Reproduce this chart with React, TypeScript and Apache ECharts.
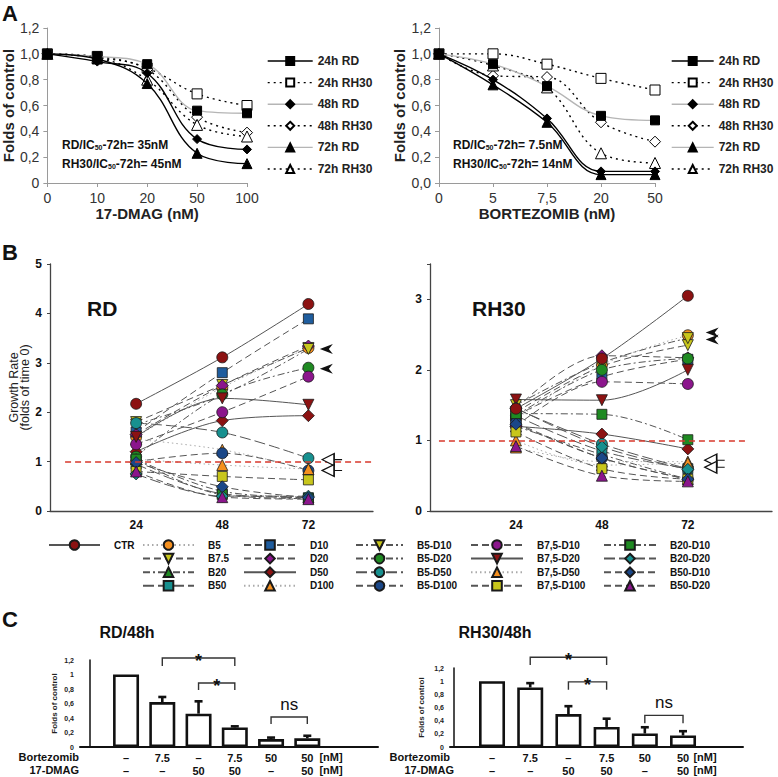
import React, { useEffect, useRef } from 'react';
import * as echarts from 'echarts';

const FONT = '"Liberation Sans", Arial, Helvetica, sans-serif';

// ---------------- Panel A: dose response ----------------
const dmagDoses = ['0', '10', '20', '50', '100'];
const bortDoses = ['0', '5', '7,5', '20', '50'];
const aSeriesNames = ['24h RD', '24h RH30', '48h RD', '48h RH30', '72h RD', '72h RH30'];
const dmag24hRD = [1.0, 0.98, 0.92, 0.56, 0.54];
const dmag24hRH30 = [1.0, 0.98, 0.89, 0.69, 0.6];
const dmag48hRD = [1.0, 0.94, 0.85, 0.34, 0.26];
const dmag48hRH30 = [1.0, 0.97, 0.88, 0.51, 0.39];
const dmag72hRD = [1.0, 0.96, 0.77, 0.23, 0.15];
const dmag72hRH30 = [1.0, 0.97, 0.8, 0.45, 0.36];
const bort24hRD = [1.0, 0.92, 0.75, 0.52, 0.485];
const bort24hRH30 = [1.0, 1.0, 0.92, 0.81, 0.72];
const bort48hRD = [1.0, 0.8, 0.5, 0.09, 0.09];
const bort48hRH30 = [1.0, 0.83, 0.82, 0.47, 0.32];
const bort72hRD = [1.0, 0.76, 0.47, 0.065, 0.065];
const bort72hRH30 = [1.0, 0.91, 0.74, 0.23, 0.155];

// ---------------- Panel B: growth rate ----------------
const hours = [24, 48, 72];
const bSeriesNames = [
  'CTR', 'B5', 'B7.5', 'B20', 'B50', 'D10', 'D20', 'D50', 'D100',
  'B5-D10', 'B5-D20', 'B5-D50', 'B5-D100',
  'B7,5-D10', 'B7,5-D20', 'B7,5-D50', 'B7,5-D100',
  'B20-D10', 'B20-D20', 'B50-D10', 'B50-D20',
];
// values at 24h, 48h, 72h (same order as bSeriesNames)
const rdGrowth = [
  [2.17, 3.11, 4.19],
  [1.5, 2.5, 3.3],
  [1.8, 2.55, 3.3],
  [1.05, 0.4, 0.28],
  [0.95, 0.35, 0.27],
  [1.6, 2.8, 3.89],
  [1.55, 2.54, 3.34],
  [1.2, 1.83, 1.93],
  [1.45, 1.24, 0.84],
  [1.75, 2.35, 3.28],
  [1.1, 2.36, 2.9],
  [1.78, 1.59, 1.07],
  [1.0, 1.17, 0.82],
  [1.35, 2.0, 2.72],
  [1.5, 2.28, 2.15],
  [1.05, 0.93, 0.85],
  [0.8, 0.7, 0.63],
  [1.05, 0.33, 0.25],
  [0.75, 0.3, 0.3],
  [0.98, 0.49, 0.27],
  [0.8, 0.28, 0.24],
];
const rh30Growth = [
  [1.45, 2.16, 3.05],
  [1.3, 2.07, 2.49],
  [1.4, 2.05, 2.35],
  [1.2, 0.8, 0.45],
  [1.35, 0.85, 0.6],
  [1.35, 1.9, 2.15],
  [1.45, 2.2, 2.17],
  [1.2, 1.09, 0.88],
  [0.9, 0.7, 0.7],
  [1.5, 2.1, 2.45],
  [1.35, 2.0, 2.16],
  [1.45, 0.95, 0.6],
  [1.25, 0.75, 0.45],
  [1.2, 1.83, 1.8],
  [1.58, 1.57, 2.0],
  [1.0, 0.65, 0.68],
  [1.12, 0.6, 0.45],
  [1.38, 1.37, 1.01],
  [1.46, 0.91, 0.59],
  [1.23, 0.75, 0.45],
  [0.92, 0.5, 0.42],
];
const bXTicks = [24, 48, 72];
// arrows: [hour position, growth]
const rdFilledArrows = [[77, 3.28], [77, 2.88]];
const rdHollowArrows = [[78.6, 1.04], [78.6, 0.82]];
const rh30FilledArrows = [[78.8, 2.53], [78.8, 2.43]];
const rh30HollowArrows = [[79.5, 0.72], [79.5, 0.62]];

// ---------------- Panel C: bars ----------------
const cBortLabels = ['–', '7.5', '–', '7.5', '50', '50'];
const cDmagLabels = ['–', '–', '50', '50', '–', '50'];
const rdFolds = [1.0, 0.62, 0.46, 0.27, 0.11, 0.12];
const rdErrTop = [1.0, 0.69, 0.63, 0.285, 0.13, 0.155];
const rh30Folds = [1.0, 0.905, 0.5, 0.305, 0.205, 0.175];
const rh30ErrTop = [1.0, 0.97, 0.62, 0.43, 0.3, 0.24];
// brackets: [from bar, to bar, top, foot]
const rdBrackets = [[2, 4, 1.228, 1.117], [3, 4, 0.883, 0.786], [5, 6, 0.414, 0.317]];
const rh30Brackets = [[2, 4, 1.364, 1.244], [3, 4, 0.99, 0.87], [5, 6, 0.48, 0.36]];
const bracketMarks = ['*', '*', 'ns'];

const aStyles: Record<string, any> = {
  '24h RD': { symbol: 'rect', fill: '#000', line: '#b5b5b5', type: 'solid', size: 9, legendLine: '#000' },
  '24h RH30': { symbol: 'rect', fill: '#fff', line: '#000', type: [2, 4], size: 10, legendLine: '#000' },
  '48h RD': { symbol: 'diamond', fill: '#000', line: '#000', type: 'solid', size: 9, legendLine: '#b5b5b5' },
  '48h RH30': { symbol: 'diamond', fill: '#fff', line: '#000', type: [2, 4], size: 11, legendLine: '#000' },
  '72h RD': { symbol: 'triangle', fill: '#000', line: '#000', type: 'solid', size: 10, legendLine: '#b5b5b5' },
  '72h RH30': { symbol: 'triangle', fill: '#fff', line: '#000', type: [2, 4], size: 11, legendLine: '#000' },
};

const C_DRED = '#8c1212';
const C_ORANGE = '#f5901f';
const C_YELLOW = '#c8c61c';
const C_GREEN = '#1f8a22';
const C_TEAL = '#17908f';
const C_BLUE = '#1f5d9e';
const C_PURPLE = '#8b168c';
const C_NAVY = '#1a4788';

const bStyles = [
  { symbol: 'circle', color: C_DRED, line: 'solid' },
  { symbol: 'circle', color: C_ORANGE, line: 'dotted' },
  { symbol: 'triangle', rot: 180, color: C_YELLOW, line: 'dash' },
  { symbol: 'triangle', color: C_GREEN, line: 'dashdot' },
  { symbol: 'rect', color: C_TEAL, line: 'long' },
  { symbol: 'rect', color: C_BLUE, line: 'dash' },
  { symbol: 'diamond', color: C_PURPLE, line: 'dash' },
  { symbol: 'diamond', color: C_DRED, line: 'solid' },
  { symbol: 'triangle', color: C_ORANGE, line: 'dotted' },
  { symbol: 'triangle', rot: 180, color: C_YELLOW, line: 'dashdot' },
  { symbol: 'circle', color: C_GREEN, line: 'dashdot' },
  { symbol: 'circle', color: C_TEAL, line: 'long' },
  { symbol: 'circle', color: C_NAVY, line: 'dash' },
  { symbol: 'circle', color: C_PURPLE, line: 'dash' },
  { symbol: 'triangle', rot: 180, color: C_DRED, line: 'solid' },
  { symbol: 'triangle', color: C_ORANGE, line: 'dotted' },
  { symbol: 'rect', color: C_YELLOW, line: 'dash' },
  { symbol: 'rect', color: C_GREEN, line: 'dashdot' },
  { symbol: 'diamond', color: C_TEAL, line: 'long' },
  { symbol: 'diamond', color: C_NAVY, line: 'dash' },
  { symbol: 'triangle', color: C_PURPLE, line: 'dash' },
];
const symSize: Record<string, number> = { circle: 11, rect: 10, diamond: 12, triangle: 11 };

function dashOf(t: string): any {
  switch (t) {
    case 'dash': return [7, 4];
    case 'long': return [11, 4];
    case 'dotted': return [1.5, 3];
    case 'dashdot': return [7, 3, 2, 3];
    default: return 'solid';
  }
}

const FILLED_ARROW = 'path://M0,5 L13,0 L9,5 L13,10 Z';
const HOLLOW_ARROW = 'path://M0,6 L12,0 L12,12 Z M12,6 L20,6';

function aFormatter(zeroLabel: string) {
  return (v: number) => (v === 0 ? zeroLabel : (Math.round(v * 10) / 10).toFixed(1).replace('.', ','));
}

function buildOption() {
  const series: any[] = [];

  // ---- Panel A ----
  const aLeftData = [dmag24hRD, dmag24hRH30, dmag48hRD, dmag48hRH30, dmag72hRD, dmag72hRH30];
  const aRightData = [bort24hRD, bort24hRH30, bort48hRD, bort48hRH30, bort72hRD, bort72hRH30];
  [aLeftData, aRightData].forEach((set, gi) => {
    aSeriesNames.forEach((name, i) => {
      const st = aStyles[name];
      series.push({
        type: 'line', name, xAxisIndex: gi, yAxisIndex: gi, smooth: 0.4,
        data: set[i],
        symbol: st.symbol, symbolSize: st.size,
        itemStyle: { color: st.fill, borderColor: '#000', borderWidth: 1 },
        lineStyle: { color: st.line, width: 1.4, type: st.type },
        z: st.fill === '#000' ? 4 : 3,
      });
    });
  });

  // ---- Panel B ----
  [rdGrowth, rh30Growth].forEach((vals, k) => {
    const ax = 2 + k;
    bSeriesNames.forEach((name, i) => {
      const st = bStyles[i];
      const s: any = {
        type: 'line', name, xAxisIndex: ax, yAxisIndex: ax, smooth: 0.35,
        data: hours.map((h, j) => [h, vals[i][j]]),
        symbol: st.symbol, symbolSize: symSize[st.symbol], symbolRotate: st.rot || 0,
        itemStyle: { color: st.color, borderColor: '#1a1a1a', borderWidth: 0.8 },
        lineStyle: { color: st.line === 'dotted' ? '#aaa' : '#555', width: 1, type: dashOf(st.line) },
        z: name === 'CTR' ? 5 : 3,
      };
      if (name === 'CTR') {
        const xEnd = k === 0 ? 89.5 : 88.8;
        const xStart = k === 0 ? 4.2 : 2.5;
        s.markLine = {
          silent: true, symbol: 'none', label: { show: false },
          lineStyle: { color: '#d8392c', type: [6, 4], width: 1.5 },
          data: [[{ coord: [xStart, 1] }, { coord: [xEnd, 1] }]],
        };
        const filled = k === 0 ? rdFilledArrows : rh30FilledArrows;
        const hollow = k === 0 ? rdHollowArrows : rh30HollowArrows;
        s.markPoint = {
          silent: true, label: { show: false },
          data: [
            ...filled.map((c) => ({ coord: c, symbol: FILLED_ARROW, symbolSize: [13, 10], itemStyle: { color: '#111', borderWidth: 0 } })),
            ...hollow.map((c) => ({ coord: c, symbol: HOLLOW_ARROW, symbolSize: [20, 12], itemStyle: { color: '#fff', borderColor: '#111', borderWidth: 1.3 } })),
          ],
        };
      }
      series.push(s);
    });
  });

  // ---- Panel C ----
  const cSets = [
    { folds: rdFolds, err: rdErrTop, br: rdBrackets },
    { folds: rh30Folds, err: rh30ErrTop, br: rh30Brackets },
  ];
  cSets.forEach((c, k) => {
    const ax = 4 + k;
    series.push({
      type: 'bar', xAxisIndex: ax, yAxisIndex: ax, barWidth: 26,
      data: c.folds.map((v, i) => [i + 1, v]),
      itemStyle: { color: '#fff', borderColor: '#111', borderWidth: 2.6 },
      z: 2,
    });
    series.push({
      type: 'custom', xAxisIndex: ax, yAxisIndex: ax, z: 3,
      data: c.folds.map((v, i) => [i + 1, v, c.err[i]]),
      renderItem: (params: any, api: any) => {
        const lo = api.coord([api.value(0), api.value(1)]);
        const hi = api.coord([api.value(0), api.value(2)]);
        if (Math.abs(hi[1] - lo[1]) < 0.5) return { type: 'group', children: [] };
        return {
          type: 'group',
          children: [
            { type: 'line', shape: { x1: lo[0], y1: lo[1], x2: hi[0], y2: hi[1] }, style: { stroke: '#111', lineWidth: 2.6 } },
            { type: 'line', shape: { x1: hi[0] - 4, y1: hi[1], x2: hi[0] + 4, y2: hi[1] }, style: { stroke: '#111', lineWidth: 2.6 } },
          ],
        };
      },
    });
    series.push({
      type: 'custom', xAxisIndex: ax, yAxisIndex: ax, z: 4, clip: false,
      data: c.br,
      renderItem: (params: any, api: any) => {
        const a = api.coord([api.value(0), api.value(2)]);
        const b = api.coord([api.value(1), api.value(2)]);
        const foot = api.coord([api.value(0), api.value(3)])[1];
        const mark = bracketMarks[params.dataIndex];
        const star = mark === '*';
        return {
          type: 'group',
          children: [
            {
              type: 'polyline',
              shape: { points: [[a[0], foot], [a[0], a[1]], [b[0], b[1]], [b[0], foot]] },
              style: { stroke: '#333', lineWidth: 1.4, fill: 'none' },
            },
            {
              type: 'text', x: (a[0] + b[0]) / 2, y: star ? a[1] + 3 : a[1] - 4,
              style: {
                text: mark, fill: '#111', align: 'center', verticalAlign: star ? 'middle' : 'bottom',
                font: star ? `bold 18px ${FONT}` : `17px ${FONT}`,
              },
            },
          ],
        };
      },
    });
  });

  const aYAxis = (gi: number, zero: string, nameGap: number) => ({
    gridIndex: gi, type: 'value', min: 0, max: 1.2, interval: 0.2,
    axisLine: { show: true, lineStyle: { color: '#9a9a9a' } },
    axisTick: { show: true, length: 4, lineStyle: { color: '#9a9a9a' } },
    splitLine: { show: false },
    axisLabel: { formatter: aFormatter(zero), color: '#333', fontSize: 14, margin: 8 },
    name: 'Folds of control', nameLocation: 'middle', nameGap,
    nameTextStyle: { fontWeight: 'bold', fontSize: 15, color: '#222' },
  });
  const aXAxis = (gi: number, data: string[], name: string) => ({
    gridIndex: gi, type: 'category', data, boundaryGap: false,
    axisLine: { lineStyle: { color: '#9a9a9a' } },
    axisTick: { show: true, length: 4, lineStyle: { color: '#9a9a9a' } },
    axisLabel: { color: '#333', fontSize: 14, margin: 8 },
    name, nameLocation: 'middle', nameGap: 19,
    nameTextStyle: { fontWeight: 'bold', fontSize: 15, color: '#222' },
  });

  const bXAxis = (gi: number, max: number) => ({
    gridIndex: gi, type: 'value', min: 0, max, interval: 24,
    axisLine: { lineStyle: { color: '#444', width: 1.3 } },
    axisTick: { show: false }, splitLine: { show: false },
    axisLabel: {
      formatter: (v: number) => (bXTicks.includes(v) ? String(v) : ''),
      color: '#111', fontWeight: 'bold', fontSize: 12, margin: 8,
    },
  });
  const bYAxis = (gi: number, max: number, withName: boolean) => ({
    gridIndex: gi, type: 'value', min: 0, max, interval: 1,
    axisLine: { show: true, lineStyle: { color: '#444', width: 1.3 } },
    axisTick: { show: true, length: 3, lineStyle: { color: '#444' } },
    splitLine: { show: false },
    axisLabel: {
      formatter: (v: number) => (Number.isInteger(v) ? String(v) : ''),
      color: '#111', fontWeight: 'bold', fontSize: 12, margin: 8,
    },
    ...(withName
      ? {
          name: 'Growth Rate\n(folds of time 0)', nameLocation: 'middle', nameGap: 15,
          nameTextStyle: { fontSize: 12.5, color: '#222', lineHeight: 11 },
        }
      : {}),
  });

  const cXAxis = (gi: number, min: number, max: number) => ({
    gridIndex: gi, type: 'value', min, max, minInterval: 1, maxInterval: 1,
    axisLine: { lineStyle: { color: '#111', width: 2 } },
    axisTick: { show: false }, splitLine: { show: false },
    axisLabel: {
      showMinLabel: false, showMaxLabel: false,
      formatter: (v: number) => {
        const i = Math.round(v) - 1;
        if (Math.abs(v - Math.round(v)) > 1e-6 || i < 0 || i >= cBortLabels.length) return '';
        return `${cBortLabels[i]}\n${cDmagLabels[i]}`;
      },
      color: '#111', fontWeight: 'bold', fontSize: 11, lineHeight: 13, margin: 4,
    },
  });
  const cYAxis = (gi: number, nameGap: number) => ({
    gridIndex: gi, type: 'value', min: 0, max: 1.2, interval: 0.2,
    axisLine: { show: true, lineStyle: { color: '#111', width: 1.5 } },
    axisTick: { show: false }, splitLine: { show: false },
    axisLabel: {
      formatter: (v: number) => String(Math.round(v * 10) / 10).replace('.', ','),
      color: '#222', fontWeight: 'bold', fontSize: 7, margin: 6,
    },
    name: 'Folds of control', nameLocation: 'middle', nameGap,
    nameTextStyle: { fontWeight: 'bold', fontSize: 8, color: '#222' },
  });

  const aLegend = (left: number, width: number) => ({
    orient: 'vertical', left, top: 54, itemWidth: width, itemHeight: 10, itemGap: 7.6,
    selectedMode: false, padding: 0,
    textStyle: { fontSize: 12, fontWeight: 'bold', color: '#222', lineHeight: 14 },
    data: aSeriesNames.map((n) => ({ name: n, lineStyle: { color: aStyles[n].legendLine, width: 1.4 } })),
  });
  const bLegend = (left: number, width: number, names: string[]) => ({
    orient: 'vertical', left, top: 539, itemWidth: width, itemHeight: 12, itemGap: 1.6,
    selectedMode: false, padding: 0,
    textStyle: { fontSize: 10, fontWeight: 'bold', color: '#111', lineHeight: 12, padding: [0, 0, 0, 9] },
    data: names,
  });

  const subRich = { s: { fontSize: 7, fontWeight: 'bold', verticalAlign: 'bottom', lineHeight: 12, fontFamily: FONT } };
  const txt = (text: string, x: number, y: number, font: string, extra: any = {}) => ({
    type: 'text', x, y, silent: true,
    style: { text, font, fill: '#111', verticalAlign: 'middle', ...extra },
  });

  return {
    animation: false,
    textStyle: { fontFamily: FONT },
    grid: [
      { left: 47, top: 28, width: 200, height: 155 },
      { left: 439, top: 28, width: 216, height: 155 },
      { left: 50, top: 264, width: 323, height: 247 },
      { left: 430, top: 264, width: 342, height: 247 },
      { left: 80, top: 660, width: 298, height: 87 },
      { left: 450, top: 668, width: 293, height: 80 },
    ],
    xAxis: [
      aXAxis(0, dmagDoses, '17-DMAG (nM)'),
      aXAxis(1, bortDoses, 'BORTEZOMIB (nM)'),
      bXAxis(2, 90),
      bXAxis(3, 95.5),
      cXAxis(4, -0.27, 7.95),
      cXAxis(5, -0.1, 7.57),
    ],
    yAxis: [
      aYAxis(0, '0', 30),
      aYAxis(1, '0,0', 32),
      bYAxis(2, 5, true),
      bYAxis(3, 3.5, false),
      cYAxis(4, 22),
      cYAxis(5, 25),
    ],
    legend: [
      aLegend(267, 45),
      aLegend(671, 42),
      bLegend(48, 51, ['CTR']),
      bLegend(142, 51, ['B5', 'B7.5', 'B20', 'B50']),
      bLegend(243, 52, ['D10', 'D20', 'D50', 'D100']),
      bLegend(355, 47, ['B5-D10', 'B5-D20', 'B5-D50', 'B5-D100']),
      bLegend(470, 52, ['B7,5-D10', 'B7,5-D20', 'B7,5-D50', 'B7,5-D100']),
      bLegend(603, 52, ['B20-D10', 'B20-D20', 'B50-D10', 'B50-D20']),
    ],
    series,
    graphic: [
      txt('A', 2, 13, `bold 22px ${FONT}`),
      txt('B', 2, 252, `bold 22px ${FONT}`),
      txt('C', 2, 619, `bold 22px ${FONT}`),
      txt('RD/IC{s|50}-72h= 35nM', 62, 145, `bold 12px ${FONT}`, { rich: subRich }),
      txt('RH30/IC{s|50}-72h= 45nM', 62, 164, `bold 12px ${FONT}`, { rich: subRich }),
      txt('RD/IC{s|50}-72h= 7.5nM', 453, 145, `bold 12px ${FONT}`, { rich: subRich }),
      txt('RH30/IC{s|50}-72h= 14nM', 453, 164, `bold 12px ${FONT}`, { rich: subRich }),
      txt('RD', 87, 308, `bold 21px ${FONT}`),
      txt('RH30', 472, 308, `bold 21px ${FONT}`),
      txt('RD/48h', 127, 632, `bold 16px ${FONT}`, { align: 'center' }),
      txt('RH30/48h', 495, 632, `bold 16px ${FONT}`, { align: 'center' }),
      txt('Bortezomib', 79, 757, `bold 11px ${FONT}`, { align: 'right' }),
      txt('17-DMAG', 79, 770, `bold 11px ${FONT}`, { align: 'right' }),
      txt('[nM]', 331, 757, `bold 11px ${FONT}`, { align: 'center' }),
      txt('[nM]', 331, 770, `bold 11px ${FONT}`, { align: 'center' }),
      txt('Bortezomib', 450, 757, `bold 11px ${FONT}`, { align: 'right' }),
      txt('17-DMAG', 454, 770, `bold 11px ${FONT}`, { align: 'right' }),
      txt('[nM]', 705, 757, `bold 11px ${FONT}`, { align: 'center' }),
      txt('[nM]', 705, 770, `bold 11px ${FONT}`, { align: 'center' }),
    ],
  };
}

export default function App() {
  const ref = useRef<HTMLDivElement>(null);
  useEffect(() => {
    if (!ref.current) return;
    const chart = echarts.init(ref.current, undefined, { renderer: 'svg' });
    chart.setOption(buildOption() as any);
    return () => chart.dispose();
  }, []);
  return (
    <div
      ref={ref}
      style={{ position: 'fixed', left: 0, top: 0, width: 778, height: 777, background: '#fff' }}
    />
  );
}
